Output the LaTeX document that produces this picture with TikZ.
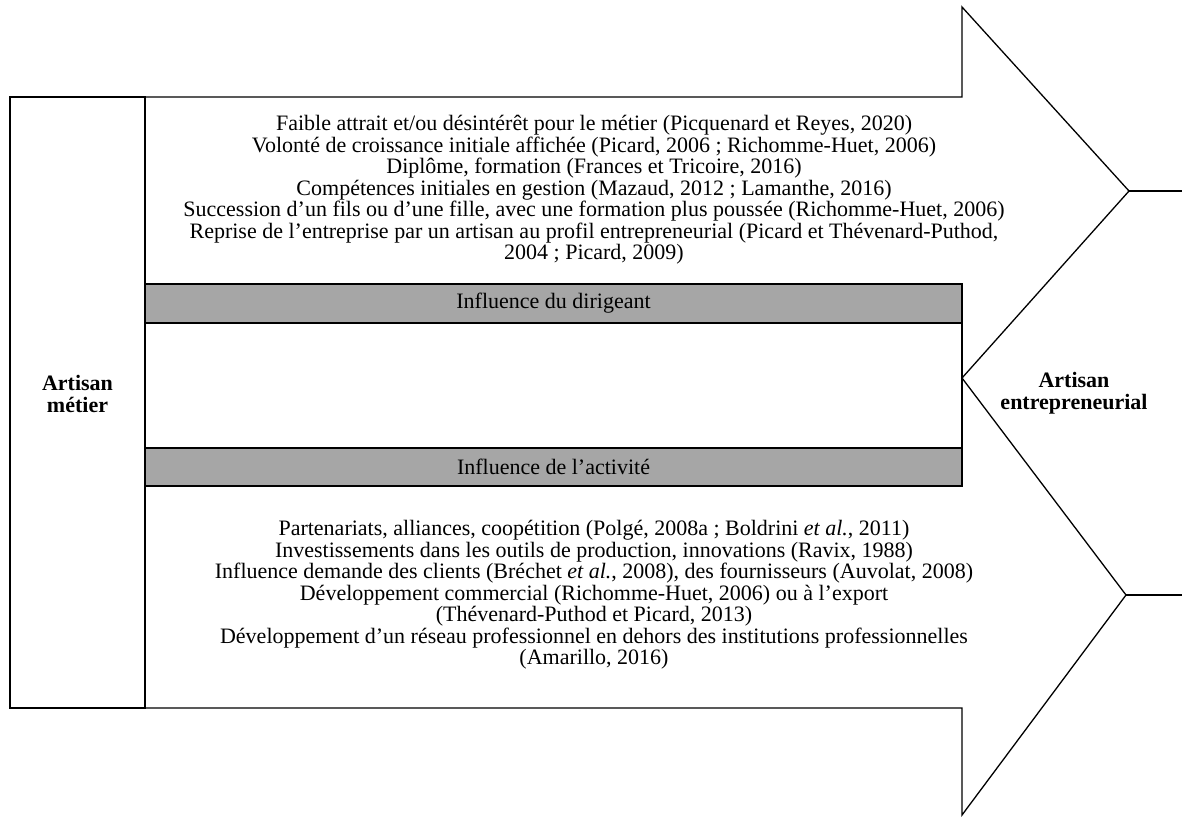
\documentclass[tikz,border=0pt]{standalone}
\usepackage{fontspec}
\setmainfont{Liberation Serif}
\usepackage{tikz}
\usetikzlibrary{positioning}
\usepackage{xcolor}
\definecolor{bargray}{RGB}{166,166,166}

\begin{document}
\begin{tikzpicture}[
  x=1pt, y=-1pt,
  outline/.style={line width=1.3pt, line join=miter},
  sidebox/.style={draw, line width=1.3pt, outer sep=0pt, minimum width=135pt, minimum height=611pt},
  bar/.style={draw, line width=2.6pt, fill=bargray, outer sep=0pt, inner sep=0pt, minimum width=817pt, font=\fontsize{22}{21.5}\selectfont},
  txt/.style={align=center, inner sep=0pt, font=\fontsize{22}{21.5}\selectfont},
  boldtxt/.style={txt, font=\bfseries\fontsize{22}{21.5}\selectfont}
]
\useasboundingbox (0,0) rectangle (1182,818);

\node[sidebox] (metier) at (77.5,402.5) {};
\node[boldtxt] (metiertxt) at (77.5,394) {Artisan\\métier};
\node[bar, minimum height=39pt] (dirigeant) at (553.5,303.5) {Influence du dirigeant};
\node[bar, minimum height=38pt] (activite) at (553.5,467) {Influence de l’activité};
\draw[line width=2.6pt] (dirigeant.north east) -- (activite.south east);

\coordinate (headtop) at (962,7);
\coordinate (tipup) at (1129,191);
\coordinate (notch) at (962,378);
\coordinate (tiplow) at (1126,595);
\coordinate (headbot) at (962,815);

\draw[outline] (metier.north east) -- (962,97) -- (headtop) -- (tipup) -- (notch)
  -- (tiplow) -- (headbot) -- (962,708) -- (metier.south east);
\draw[outline] (tipup) -- (1182,191);
\draw[outline] (tiplow) -- (1182,595);

\node[txt] (dirtxt) at (594,190) {Faible attrait et/ou désintérêt pour le métier (Picquenard et Reyes, 2020)\\
  Volonté de croissance initiale affichée (Picard, 2006 ; Richomme-Huet, 2006)\\
  Diplôme, formation (Frances et Tricoire, 2016)\\
  Compétences initiales en gestion (Mazaud, 2012 ; Lamanthe, 2016)\\
  Succession d’un fils ou d’une fille, avec une formation plus poussée (Richomme-Huet, 2006)\\
  Reprise de l’entreprise par un artisan au profil entrepreneurial (Picard et Thévenard-Puthod,\\
  2004 ; Picard, 2009)};

\node[txt] (acttxt) at (594,595) {Partenariats, alliances, coopétition (Polgé, 2008a ; Boldrini \textit{et al.}, 2011)\\
  Investissements dans les outils de production, innovations (Ravix, 1988)\\
  Influence demande des clients (Bréchet \textit{et al.}, 2008), des fournisseurs (Auvolat, 2008)\\
  Développement commercial (Richomme-Huet, 2006) ou à l’export\\
  (Thévenard-Puthod et Picard, 2013)\\
  Développement d’un réseau professionnel en dehors des institutions professionnelles\\
  (Amarillo, 2016)};

\node[boldtxt] (entre) at (1074,393) {Artisan\\entrepreneurial};
\end{tikzpicture}
\end{document}
